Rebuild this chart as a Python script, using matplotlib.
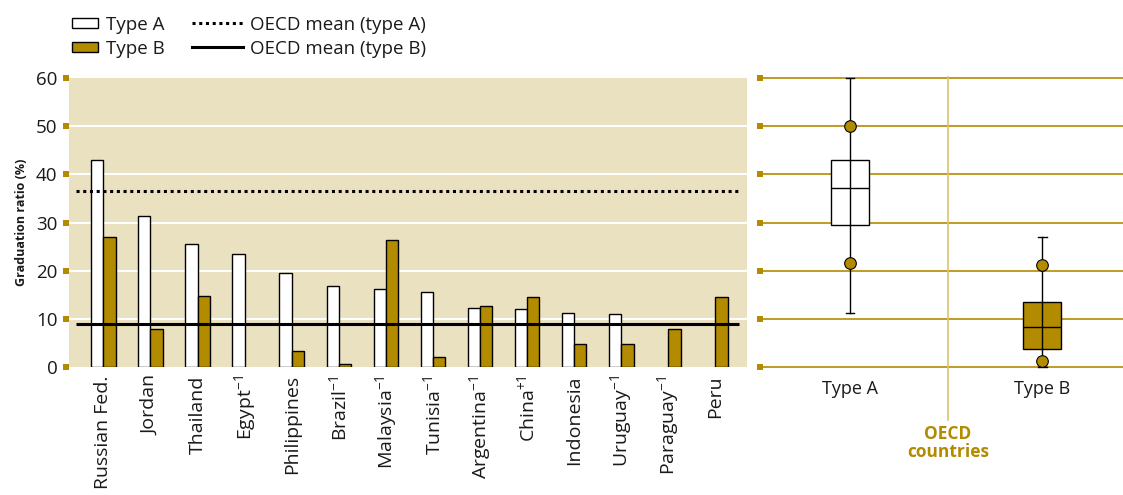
import matplotlib
matplotlib.use("Agg")
import matplotlib.pyplot as plt
from matplotlib.patches import Patch
from matplotlib.lines import Line2D
import numpy as np

plt.rcParams['font.family'] = ['Open Sans', 'DejaVu Sans']
plt.rcParams['mathtext.fontset'] = 'custom'
plt.rcParams['mathtext.rm'] = 'Open Sans'
plt.rcParams['mathtext.it'] = 'Open Sans'
plt.rcParams['mathtext.default'] = 'regular'
TXT = "#1a1a1a"

countries = ["Russian Fed.", "Jordan", "Thailand", "Egypt$^{-1}$", "Philippines",
             "Brazil$^{-1}$", "Malaysia$^{-1}$", "Tunisia$^{-1}$", "Argentina$^{-1}$",
             "China$^{+1}$", "Indonesia", "Uruguay$^{-1}$", "Paraguay$^{-1}$", "Peru"]
type_a = [42.9, 31.3, 25.5, 23.4, 19.5, 16.8, 16.2, 15.6, 12.2, 12.1, 11.2, 11.0, np.nan, np.nan]
type_b = [27.0, 7.9, 14.7, np.nan, 3.3, 0.6, 26.3, 2.1, 12.7, 14.5, 4.8, 4.8, 7.9, 14.5]
oecd_mean_a = 36.5
oecd_mean_b = 8.9

# OECD distribution (box plot) values
box_labels = ["Type A", "Type B"]
box_min = [11.2, 0.0]
box_q1 = [29.5, 3.7]
box_med = [37.1, 8.3]
box_q3 = [43.0, 13.5]
box_max = [60.0, 27.0]
box_dot_hi = [50.0, 21.2]
box_dot_lo = [21.6, 1.2]

GOLD = "#B38B00"
BEIGE = "#EAE1C1"
LIGHTGOLD = "#D9C36E"

fig = plt.figure(figsize=(11.23, 4.95), dpi=100)
H = 495.0
W = 1123.0
ax = fig.add_axes([69 / W, 1 - 367 / H, (747 - 69) / W, (367 - 78) / H])
ax2 = fig.add_axes([763 / W, 1 - 367 / H, (1123 - 763) / W, (367 - 78) / H])

# ---- left panel ----
x = np.arange(len(countries))
bw = 0.26
ax.set_facecolor(BEIGE)
ax.set_xlim(-0.73, 13.67)
ax.set_ylim(0, 60)
for y in [10, 20, 30, 40, 50]:
    ax.axhline(y, color="white", lw=1.5, zorder=1)
ax.bar(x - bw / 2, type_a, width=bw, color="white", edgecolor="black", lw=1.0, zorder=3)
ax.bar(x + bw / 2, type_b, width=bw, color=GOLD, edgecolor="black", lw=1.0, zorder=3)
ax.hlines(oecd_mean_a, -0.58, 13.5, colors="black", linestyles=(0, (1, 1.2)), lw=2.2, zorder=4)
ax.hlines(oecd_mean_b, -0.58, 13.5, colors="black", lw=2.2, zorder=4)
for s in ax.spines.values():
    s.set_visible(False)
ax.set_yticks([0, 10, 20, 30, 40, 50, 60])
ax.tick_params(axis="y", length=4.3, width=4.3, color=GOLD, labelsize=13.5, labelcolor=TXT, pad=4)
ax.set_xticks(x)
ax.set_xticklabels(countries, rotation=90, fontsize=14, color=TXT)
ax.tick_params(axis="x", length=0, pad=6)
ax.set_ylabel("Graduation ratio (%)", fontsize=9, fontweight="bold", labelpad=6, color=TXT)

# ---- right panel ----
ax2.set_xlim(0.547, 2.42)
ax2.set_ylim(0, 60)
for s in ax2.spines.values():
    s.set_visible(False)
for y in range(0, 61, 10):
    ax2.axhline(y, color=GOLD, lw=1.2, zorder=1, clip_on=False)
ax2.set_yticks(range(0, 61, 10))
ax2.set_yticklabels([])
ax2.tick_params(axis="y", length=4.3, width=4.3, color=GOLD)
stats = []
for i in range(2):
    stats.append(dict(label=box_labels[i], whislo=box_min[i], q1=box_q1[i], med=box_med[i],
                      q3=box_q3[i], whishi=box_max[i], fliers=[]))
bp = ax2.bxp(stats, positions=[1, 2], widths=0.2, capwidths=0.045, patch_artist=True,
             showfliers=False,
             boxprops=dict(edgecolor="black", lw=1.0),
             medianprops=dict(color="black", lw=1.0),
             whiskerprops=dict(color="black", lw=1.0),
             capprops=dict(color="black", lw=1.0), zorder=3)
bp["boxes"][0].set_facecolor("white")
bp["boxes"][1].set_facecolor(GOLD)
for i, p in enumerate([1, 2]):
    ax2.plot([p, p], [box_q1[i], box_q3[i]], color="black", lw=1.0, zorder=4)
ax2.scatter([1, 1, 2, 2], [box_dot_hi[0], box_dot_lo[0], box_dot_hi[1], box_dot_lo[1]],
            s=70, color=GOLD, edgecolor="black", lw=0.8, zorder=5, clip_on=False)
for c in bp["caps"]:
    c.set_clip_on(False)
ax2.set_xticks([1, 2])
ax2.set_xticklabels(box_labels, fontsize=13, color=TXT)
ax2.tick_params(axis="x", length=0, pad=9)
sep = Line2D([1.51, 1.51], [1 - 77 / H, 1 - 420 / H], color=LIGHTGOLD, lw=1.2,
             transform=matplotlib.transforms.blended_transform_factory(ax2.transData, fig.transFigure))
fig.add_artist(sep)
fig.text(948 / W, 1 - 443 / H, "OECD\ncountries", color=GOLD, fontsize=12.5, fontweight="bold",
         ha="center", va="center", linespacing=1.0)

# ---- legend ----
h1 = [Patch(facecolor="white", edgecolor="black", lw=1.0, label="Type A"),
      Patch(facecolor=GOLD, edgecolor="black", lw=1.0, label="Type B")]
h2 = [Line2D([], [], color="black", ls=(0, (1, 1.2)), lw=2.2, label="OECD mean (type A)"),
      Line2D([], [], color="black", lw=2.2, label="OECD mean (type B)")]
fig.legend(handles=h1, loc="upper left", bbox_to_anchor=(55 / W, 1 + 1 / H),
           frameon=False, fontsize=13.5, handlelength=1.4, handleheight=0.45,
           labelspacing=0.3, handletextpad=0.4, labelcolor=TXT)
fig.legend(handles=h2, loc="upper left", bbox_to_anchor=(175 / W, 1 + 1 / H),
           frameon=False, fontsize=13.5, handlelength=2.7,
           labelspacing=0.3, handletextpad=0.4, labelcolor=TXT)

fig.savefig("out.png", dpi=100)
